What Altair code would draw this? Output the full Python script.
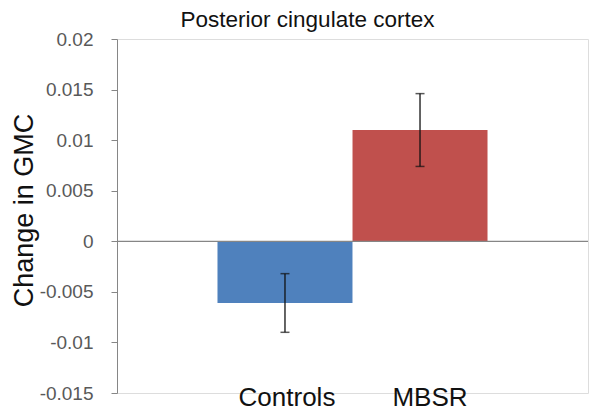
import altair as alt
import pandas as pd

groups = ["Controls", "MBSR"]
means = [-0.0061, 0.0110]
errors = [0.0029, 0.0036]
colors = ["#4F81BD", "#C0504D"]
y_ticks = [-0.015, -0.01, -0.005, 0, 0.005, 0.01, 0.015, 0.02]

df = pd.DataFrame({
    "group": groups,
    "mean": means,
    "err": errors,
    "color": colors,
})
df["lo"] = df["mean"] - df["err"]
df["hi"] = df["mean"] + df["err"]

FONT = "Liberation Sans"

x = alt.X(
    "group:N",
    sort=groups,
    scale=alt.Scale(paddingInner=0, paddingOuter=0.744),
    axis=alt.Axis(
        title=None, domain=False, ticks=False, labelAngle=0,
        labelFontSize=26, labelColor="#111111", labelFont=FONT,
        labelPadding=-9,
        labelOffset=alt.ExprRef(expr="datum.value == 'MBSR' ? 10 : 2"),
        orient="bottom",
    ),
)
yscale = alt.Scale(domain=[-0.015, 0.02], nice=False, zero=False)

base = alt.Chart(df)

bars = base.mark_bar(size=135).encode(
    x=x,
    y=alt.Y(
        "mean:Q",
        scale=yscale,
        axis=alt.Axis(
            values=y_ticks,
            labelExpr="replace(format(datum.value, '~g'), '\u2212', '-')",
            grid=False, domain=True, domainColor="#868686", tickColor="#868686",
            tickSize=6, labelFontSize=19, labelColor="#595959", labelFont=FONT,
            labelPadding=18, title="Change in GMC", titleFontSize=27,
            titleFont=FONT, titleFontWeight="normal", titleColor="#111111",
            titleAngle=270, titleX=-93, titleY=171, titleAlign="center",
            titleBaseline="middle",
        ),
    ),
    y2=alt.datum(0),
    color=alt.Color("color:N", scale=None),
)

zero = alt.Chart(pd.DataFrame({"v": [0]})).mark_rule(color="#868686", strokeWidth=1.2).encode(
    y=alt.Y("v:Q", scale=yscale)
)

err_line = base.mark_rule(color="#111111", strokeWidth=1.3).encode(
    x=x,
    y=alt.Y("lo:Q", scale=yscale),
    y2="hi:Q",
)
cap_lo = base.mark_tick(color="#111111", size=9, thickness=1.5).encode(
    x=x, y=alt.Y("lo:Q", scale=yscale)
)
cap_hi = base.mark_tick(color="#111111", size=9, thickness=1.5).encode(
    x=x, y=alt.Y("hi:Q", scale=yscale)
)

chart = alt.layer(bars, zero, err_line, cap_lo, cap_hi).properties(
    width=471,
    height=354,
    title=alt.TitleParams(
        "Posterior cingulate cortex", fontSize=22.5, font=FONT, fontWeight="normal",
        color="#111111", anchor="middle", dx=-45, dy=33, offset=9, baseline="bottom",
        frame="group",
    ),
    autosize=alt.AutoSizeParams(type="none"),
    padding={"left": 109, "top": 31, "right": 5, "bottom": 20},
).configure_view(stroke=None).configure(background="white")

chart.save("out.html", embed_options={"renderer": "svg", "actions": False})
